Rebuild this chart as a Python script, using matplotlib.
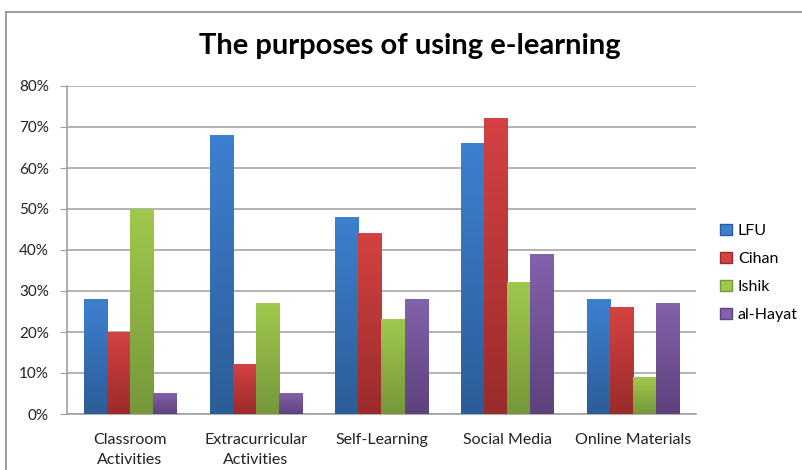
import numpy as np
import matplotlib.pyplot as plt
import matplotlib.patches as mpatches
from matplotlib.colors import LinearSegmentedColormap

# Données (en %)
categories = ["Classroom\nActivities", "Extracurricular\nActivities", "Self-Learning",
              "Social Media", "Online Materials"]
series_names = ["LFU", "Cihan", "Ishik", "al-Hayat"]
lfu = [28, 68, 48, 66, 28]
cihan = [20, 12, 44, 72, 26]
ishik = [50, 27, 23, 32, 9]
alhayat = [5, 5, 28, 39, 27]
yticks = [0, 10, 20, 30, 40, 50, 60, 70, 80]

# couleurs haut / bas du dégradé
colors = [("#3d80d0", "#2c5d98"),
          ("#d44242", "#9b2b2b"),
          ("#a0c84c", "#76973a"),
          ("#8262ab", "#5e427e")]

plt.rcParams['font.family'] = ['Lato', 'DejaVu Sans']

fig = plt.figure(figsize=(8.02, 4.70), dpi=100)
W, H = 802, 470
ax = fig.add_axes([67 / W, (H - 414) / H, 629 / W, 328 / H])

# cadre extérieur
fig.add_artist(plt.Line2D([6 / W, 1], [1 - 12 / H, 1 - 12 / H], color="#8c8c8c", lw=1.2))
fig.add_artist(plt.Line2D([6 / W, 6 / W], [0, 1 - 12 / H], color="#8c8c8c", lw=1.2))

data = [lfu, cihan, ishik, alhayat]
x = np.arange(len(categories))
bw = 0.183
grad = np.linspace(1, 0, 100).reshape(-1, 1)

for i, vals in enumerate(data):
    cmap = LinearSegmentedColormap.from_list("c%d" % i, [colors[i][1], colors[i][0]])
    for j, v in enumerate(vals):
        x0 = x[j] - 2 * bw + i * bw
        ax.imshow(grad, extent=(x0, x0 + bw, 0, v), cmap=cmap, aspect="auto",
                  vmin=0, vmax=1, zorder=3, interpolation="bilinear")

ax.set_xlim(-0.5, len(categories) - 0.5)
ax.set_ylim(0, 80)
ax.set_yticks(yticks)
ax.set_yticklabels(["%d%%" % t for t in yticks], fontsize=11, color="#222222")
ax.set_xticks(x)
ax.set_xticklabels(categories, fontsize=11.5, color="#222222", linespacing=1.5)
ax.tick_params(axis="x", length=0, pad=14)
ax.tick_params(axis="y", length=5, color="#a0a0a0", pad=8)
ax.yaxis.grid(True, color="#a6a6a6", lw=1.2)
ax.set_axisbelow(True)
for s in ["top", "right"]:
    ax.spines[s].set_visible(False)
for s in ["left", "bottom"]:
    ax.spines[s].set_color("#a0a0a0")
    ax.spines[s].set_linewidth(1.2)

fig.text(410 / W, 1 - 46 / H, "The purposes of using e-learning", ha="center", va="center",
         fontsize=21, fontweight="bold")

handles = [mpatches.Patch(facecolor=c[0], edgecolor=c[1], label=n)
           for c, n in zip(colors, series_names)]
fig.legend(handles=handles, loc="center left", bbox_to_anchor=(706 / W, 1 - 273 / H),
           frameon=False, fontsize=11.5, handlelength=0.7, handleheight=0.7,
           handletextpad=0.4, labelspacing=0.85)

plt.savefig("out.png")
